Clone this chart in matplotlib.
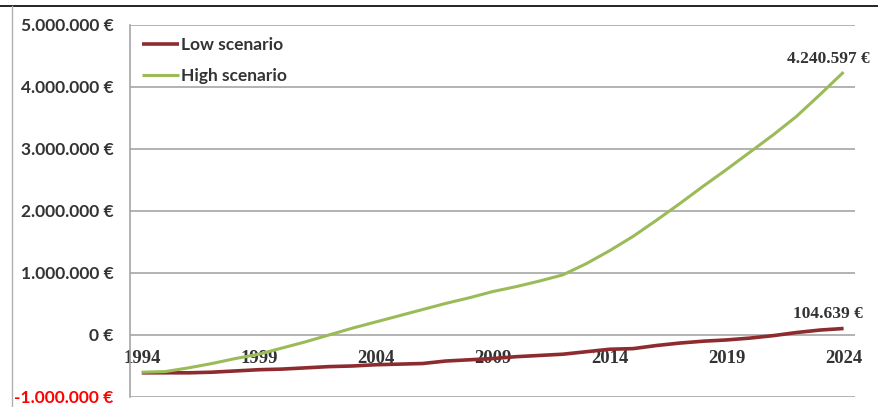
import matplotlib
matplotlib.use("Agg")
import matplotlib.pyplot as plt
from matplotlib.lines import Line2D
from matplotlib.ticker import FuncFormatter

years = list(range(1994, 2025))

low_scenario = [-610000, -610000, -610000, -600000, -580000, -560000, -550000,
                -530000, -510000, -500000, -480000, -470000, -460000, -420000,
                -400000, -380000, -350000, -330000, -310000, -270000, -230000,
                -220000, -170000, -130000, -100000, -80000, -50000, -10000,
                40000, 80000, 104639]

high_scenario = [-600000, -590000, -530000, -460000, -380000, -310000, -210000,
                 -110000, 0, 110000, 210000, 310000, 410000, 510000, 600000,
                 700000, 780000, 870000, 970000, 1150000, 1360000, 1590000,
                 1850000, 2120000, 2400000, 2670000, 2950000, 3230000, 3530000,
                 3880000, 4240597]

x_ticks = [1994, 1999, 2004, 2009, 2014, 2019, 2024]
y_ticks = [-1000000, 0, 1000000, 2000000, 3000000, 4000000, 5000000]


def euro(v, pos=None):
    return "{:,.0f}".format(v).replace(",", ".") + " €"


def main():
    fig = plt.figure(figsize=(8.79, 4.07), dpi=100)
    ax = fig.add_axes([0.148, 0.0246, 0.825, 0.914])

    ax.plot(years, low_scenario, color="#8e2b2f", linewidth=2.6,
            label="Low scenario", solid_capstyle="butt")
    ax.plot(years, high_scenario, color="#9bbb59", linewidth=2.2,
            label="High scenario", solid_capstyle="butt")

    ax.set_xlim(1993.5, 2024.5)
    ax.set_ylim(-1000000, 5000000)
    ax.set_yticks(y_ticks)
    ax.yaxis.set_major_formatter(FuncFormatter(euro))
    ax.tick_params(axis="y", length=0, pad=12, labelsize=12.5,
                   labelcolor="#333333")
    for lbl in ax.get_yticklabels():
        lbl.set_fontfamily("Lato")
        lbl.set_fontweight("bold")
    ax.get_yticklabels()[0].set_color("#ff0000")

    ax.set_xticks(x_ticks)
    ax.set_xticklabels([str(y) for y in x_ticks])
    ax.spines["bottom"].set_position(("data", 0))
    ax.spines["bottom"].set_visible(False)
    ax.tick_params(axis="x", length=0, pad=11, labelsize=13.5,
                   labelcolor="#333333")
    for lbl in ax.get_xticklabels():
        lbl.set_fontfamily("Liberation Serif")
        lbl.set_fontweight("bold")

    ax.grid(axis="y", color="#a6a6a6", linewidth=1.2)
    ax.set_axisbelow(True)
    for s in ["top", "right"]:
        ax.spines[s].set_visible(False)
    ax.spines["left"].set_color("#a6a6a6")
    ax.spines["left"].set_linewidth(1.2)

    leg = ax.legend(loc="upper left", bbox_to_anchor=(0.0, 1.0),
                    frameon=False, handlelength=2.1, handletextpad=0.15,
                    labelspacing=0.85, borderaxespad=0.3,
                    prop={"family": "Lato", "weight": "bold", "size": 12.5})
    for t in leg.get_texts():
        t.set_color("#333333")

    ax.annotate(euro(high_scenario[-1]), (years[-1], high_scenario[-1]),
                xytext=(-11, 4), textcoords="offset points", ha="center",
                va="bottom", fontsize=12.5, fontweight="bold",
                family="Liberation Serif", color="#333333")
    ax.annotate(euro(low_scenario[-1]), (years[-1], low_scenario[-1]),
                xytext=(-11, 5), textcoords="offset points", ha="center",
                va="bottom", fontsize=12.5, fontweight="bold",
                family="Liberation Serif", color="#333333")

    # frame of the original screenshot
    fig.add_artist(Line2D([0, 1], [0.985, 0.985], color="black",
                          linewidth=1.2, transform=fig.transFigure))
    fig.add_artist(Line2D([0.014, 0.014], [0, 0.985], color="#b0b0b0",
                          linewidth=1.0, transform=fig.transFigure))

    fig.savefig("out.png", dpi=100)


if __name__ == "__main__":
    main()
